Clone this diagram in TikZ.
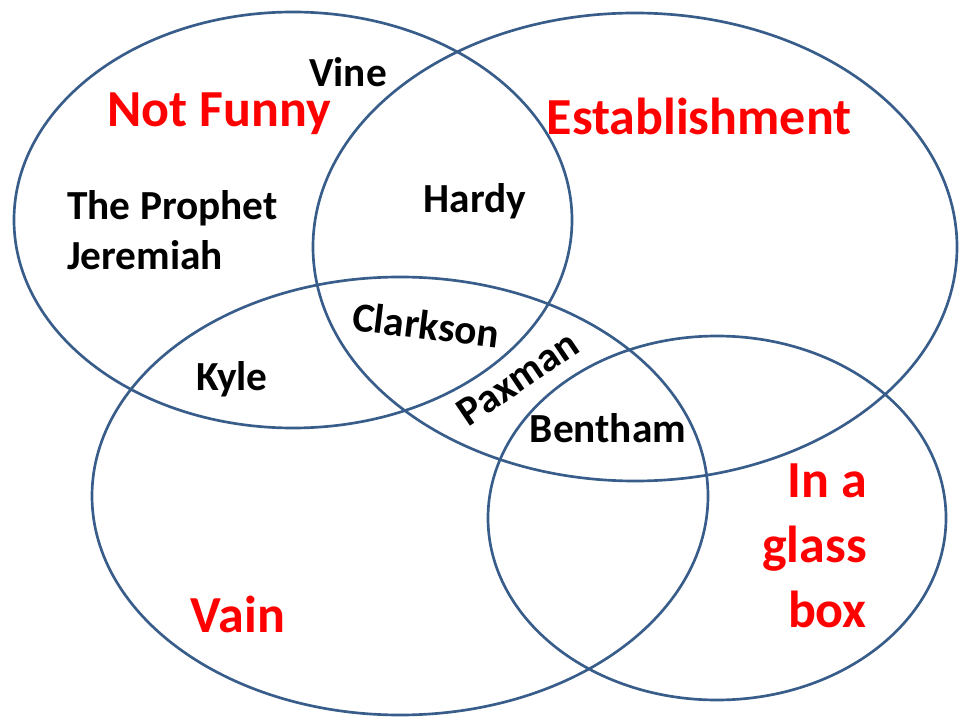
\documentclass[tikz,border=0pt]{standalone}
\usepackage{fontspec}
\setmainfont{Carlito}
\definecolor{ringblue}{HTML}{385D8A}
\definecolor{setred}{HTML}{FF0000}
\tikzset{
  ring/.style={draw=ringblue, line width=2pt},
  setlabel/.style={text=setred, font=\bfseries\fontsize{39}{48.4}\selectfont, inner sep=0pt},
  member/.style={text=black, font=\bfseries\fontsize{31}{37.5}\selectfont, inner sep=0pt},
}
\begin{document}
\begin{tikzpicture}[x=0.75pt, y=-0.75pt]
\useasboundingbox (0,0) rectangle (960,720);
% sets
\draw[ring] (293,220) ellipse [x radius=279, y radius=208];
\draw[ring] (635,247) ellipse [x radius=322, y radius=234];
\draw[ring] (400,496) ellipse [x radius=308, y radius=219];
\draw[ring] (717,518) ellipse [x radius=229, y radius=182];
% set labels
\node[setlabel, anchor=base] (notfunny) at (219,127) {Not Funny};
\node[setlabel, anchor=base] (estab) at (699,135) {Establishment};
\node[setlabel, anchor=base] (vain) at (238,632) {Vain};
\node[setlabel, anchor=base east, align=right] (glass) at (867,627) {In a\\glass\\box};
% members
\node[member, anchor=base] (vine) at (348,87) {Vine};
\node[member, anchor=base west, align=left] (prophet) at (67,270) {The Prophet\\Jeremiah};
\node[member, anchor=base] (hardy) at (475,213) {Hardy};
\node[member, rotate=-7] (clarkson) at (426,325) {Clarkson};
\node[member, anchor=base] (kyle) at (232,390) {Kyle};
\node[member, rotate=34] (paxman) at (518,378) {Paxman};
\node[member, anchor=base] (bentham) at (608,442) {Bentham};
\end{tikzpicture}
\end{document}
